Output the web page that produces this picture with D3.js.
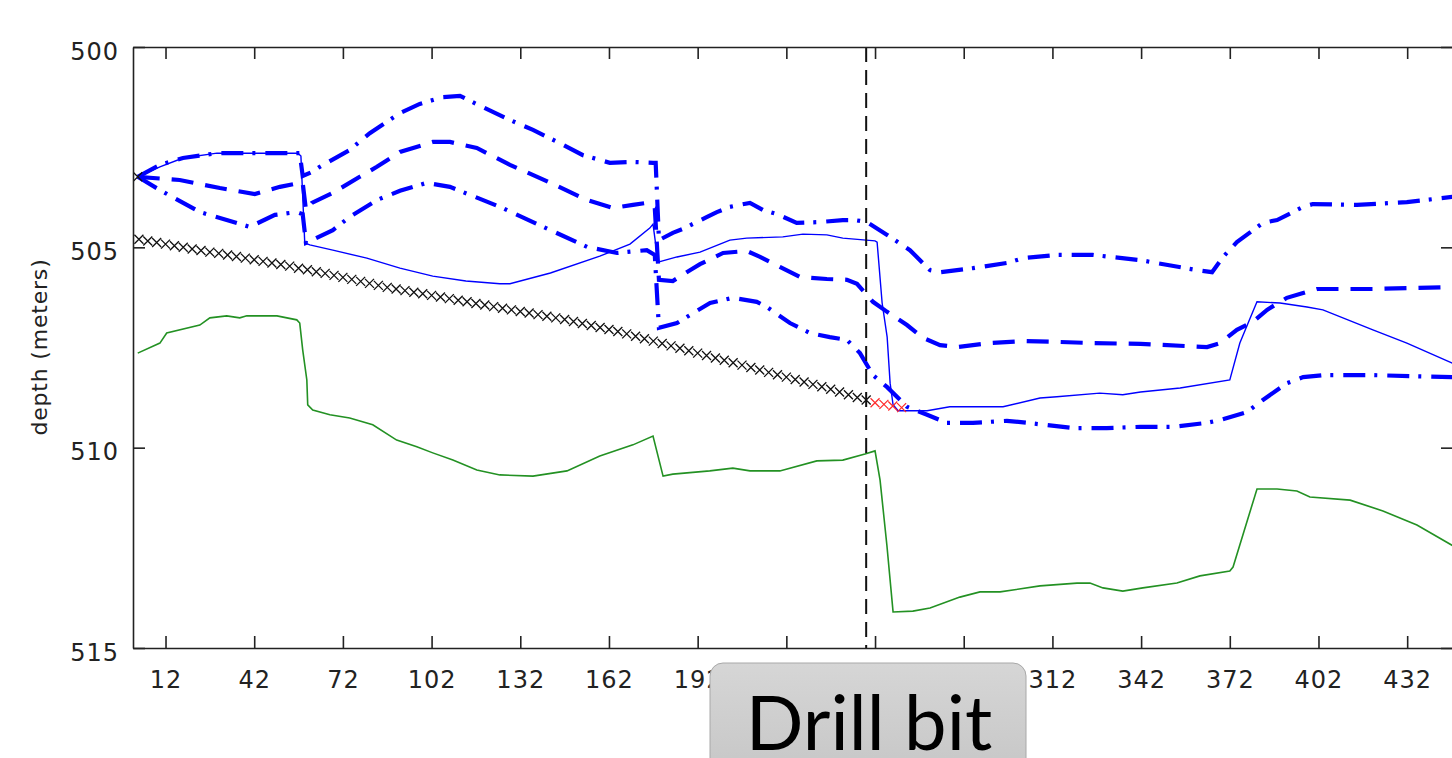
<!DOCTYPE html>
<html>
<head>
<meta charset="utf-8">
<script src="https://cdn.jsdelivr.net/npm/d3@7"></script>
<style>
  body { margin: 0; background: #ffffff; overflow: hidden; }
  svg { display: block; }
</style>
</head>
<body>
<div id="plot"></div>
<script>
// frame constants
const FRAME_WIDTH = 1452;
const FRAME_HEIGHT = 758;
const PLOT = {left: 133, right: 1453, top: 47, bottom: 648};

// axis ticks
const X_TICKS = [12, 42, 72, 102, 132, 162, 192, 222, 252, 282, 312, 342, 372, 402, 432];
const Y_TICKS = [500, 505, 510, 515];
const DRILL_BIT_X = 249;

// drilled path so far (black x markers)
const DRILL_X = [3, 6, 9, 12, 15, 18, 21, 24, 27, 30, 33, 36, 39, 42, 45, 48, 51, 54, 57, 60,
  63, 66, 69, 72, 75, 78, 81, 84, 87, 90, 93, 96, 99, 102, 105, 108, 111, 114, 117, 120,
  123, 126, 129, 132, 135, 138, 141, 144, 147, 150, 153, 156, 159, 162, 165, 168, 171, 174, 177, 180,
  183, 186, 189, 192, 195, 198, 201, 204, 207, 210, 213, 216, 219, 222, 225, 228, 231, 234, 237, 240,
  243, 246, 249];
const DRILL_DEPTH = [504.80, 504.84, 504.88, 504.92, 504.96, 505.00, 505.04, 505.08, 505.12, 505.15,
  505.19, 505.23, 505.27, 505.31, 505.35, 505.39, 505.43, 505.47, 505.52, 505.56,
  505.61, 505.65, 505.70, 505.75, 505.80, 505.85, 505.90, 505.95, 506.00, 506.04,
  506.08, 506.12, 506.16, 506.20, 506.24, 506.28, 506.32, 506.36, 506.40, 506.44,
  506.48, 506.52, 506.56, 506.60, 506.64, 506.68, 506.72, 506.76, 506.80, 506.85,
  506.90, 506.95, 507.00, 507.05, 507.10, 507.16, 507.22, 507.28, 507.34, 507.40,
  507.46, 507.52, 507.58, 507.64, 507.70, 507.76, 507.82, 507.88, 507.94, 508.00,
  508.06, 508.12, 508.18, 508.24, 508.30, 508.36, 508.42, 508.48, 508.54, 508.61,
  508.68, 508.75, 508.81];

// planned points ahead of the bit (red x markers)
const PLAN_X = [252, 255, 258, 261];
const PLAN_DEPTH = [508.88, 508.92, 508.96, 509.00];

// start point marker
const START_X = [2.6];
const START_DEPTH = [503.24];

// upper bound (thick dash-dot)
const UPPER_X = [2.6, 10.1, 17.9, 29.4, 56.4, 57.4, 58.4, 61.5, 64.2, 74.3, 81.1, 91.3, 98.0, 105.8, 111.6,
  119.3, 128.5, 136.3, 145.4, 153.2, 162.3, 170.1, 176.9, 177.8, 178.9, 183.6, 187.0, 195.2, 198.5, 202.9,
  209.7, 214.1, 218.8, 225.5, 233.3, 241.1, 245.2, 249.3, 256.1, 263.8, 270.6, 274.0, 285.1, 296.6, 302.1,
  313.5, 325.7, 341.8, 360.9, 366.0, 369.7, 374.4, 383.2, 388.0, 396.8, 400.1, 415.0, 431.9, 447.5];
const UPPER_DEPTH = [503.24, 502.94, 502.77, 502.65, 502.65, 502.65, 503.22, 503.12, 502.99, 502.57, 502.15, 501.65, 501.42, 501.25, 501.22,
  501.50, 501.82, 502.07, 502.40, 502.70, 502.89, 502.87, 502.89, 502.89, 504.82, 504.64, 504.54, 504.24, 504.12, 503.99,
  503.89, 504.07, 504.17, 504.39, 504.37, 504.32, 504.32, 504.37, 504.69, 505.07, 505.57, 505.62, 505.52, 505.39, 505.27,
  505.19, 505.19, 505.32, 505.57, 505.62, 505.24, 504.87, 504.39, 504.32, 503.99, 503.92, 503.94, 503.87, 503.74];

// middle estimate (thick dashed)
const MID_X = [2.6, 16.8, 30.4, 42.2, 50.7, 57.4, 58.4, 59.5, 61.5, 68.6, 77.7, 83.5, 91.3, 102.4, 108.2,
  117.3, 128.5, 142.2, 154.6, 163.3, 170.1, 174.8, 177.5, 178.9, 183.6, 189.4, 192.8, 200.6, 208.6, 213.1,
  219.8, 226.6, 235.7, 242.5, 245.9, 251.3, 256.1, 262.8, 268.2, 274.0, 279.7, 290.8, 302.1, 313.5, 325.7,
  341.8, 364.3, 368.7, 374.4, 379.8, 384.6, 391.3, 396.8, 401.5, 420.4, 447.5];
const MID_DEPTH = [503.24, 503.32, 503.52, 503.67, 503.49, 503.39, 503.39, 504.07, 503.89, 503.64, 503.24, 502.99, 502.62, 502.37, 502.37,
  502.52, 502.94, 503.39, 503.82, 504.02, 503.94, 503.89, 504.02, 505.81, 505.84, 505.57, 505.42, 505.14, 505.09, 505.24,
  505.49, 505.74, 505.79, 505.81, 505.91, 506.36, 506.61, 506.94, 507.26, 507.44, 507.49, 507.39, 507.34, 507.36, 507.39,
  507.41, 507.49, 507.39, 507.06, 506.86, 506.56, 506.26, 506.14, 506.04, 506.04, 505.99];

// lower bound (thick dash-dot)
const LOW_X = [2.6, 10.1, 23.6, 40.5, 49.0, 56.4, 58.4, 59.5, 68.6, 74.3, 83.5, 91.3, 100.4, 108.2, 125.1,
  142.2, 154.6, 164.7, 174.8, 177.5, 178.9, 185.0, 190.5, 196.2, 203.9, 212.0, 215.4, 223.2, 230.0, 236.7,
  242.5, 246.9, 251.3, 256.1, 260.5, 262.8, 269.6, 276.3, 285.1, 296.6, 303.4, 318.9, 330.4, 341.8, 352.8,
  364.3, 368.7, 377.8, 383.2, 391.3, 396.8, 403.5, 420.4, 447.5];
const LOW_DEPTH = [503.24, 503.57, 504.12, 504.49, 504.19, 504.12, 504.17, 504.89, 504.57, 504.24, 503.82, 503.59, 503.39, 503.49, 503.99,
  504.57, 504.99, 505.14, 505.07, 505.19, 507.01, 506.89, 506.64, 506.39, 506.26, 506.36, 506.49, 506.89, 507.14, 507.24,
  507.31, 507.64, 508.19, 508.49, 508.81, 508.98, 509.18, 509.38, 509.38, 509.33, 509.38, 509.51, 509.51, 509.48, 509.48,
  509.38, 509.31, 509.11, 508.81, 508.39, 508.24, 508.19, 508.19, 508.24];

// thin solid blue line
const SOLID_X = [2.6, 10.1, 17.9, 29.4, 56.8, 57.8, 59.1, 60.8, 68.6, 80.1, 91.3, 102.4, 113.6, 125.1, 128.5,
  142.2, 158.9, 169.1, 175.8, 176.9, 178.6, 185.0, 192.8, 202.9, 208.6, 220.8, 227.6, 235.7, 241.1, 252.0,
  252.7, 254.4, 256.1, 257.1, 258.1, 259.8, 269.6, 277.3, 295.3, 307.8, 313.5, 328.0, 335.8, 341.8, 355.2,
  372.0, 375.4, 378.2, 381.2, 389.0, 398.1, 403.5, 420.4, 431.9, 447.5];
const SOLID_DEPTH = [503.24, 502.99, 502.77, 502.65, 502.65, 502.72, 504.89, 504.94, 505.07, 505.27, 505.52, 505.72, 505.84, 505.91, 505.91,
  505.64, 505.22, 504.92, 504.52, 504.42, 505.37, 505.24, 505.12, 504.82, 504.77, 504.74, 504.67, 504.69, 504.77, 504.84,
  504.87, 506.39, 507.24, 508.39, 508.93, 509.08, 509.08, 508.98, 508.98, 508.76, 508.73, 508.64, 508.68, 508.61, 508.51,
  508.31, 507.39, 506.89, 506.36, 506.39, 506.49, 506.56, 507.06, 507.39, 507.90];

// green line
const GREEN_X = [2.6, 10.1, 12.4, 23.6, 27.0, 32.7, 37.1, 39.5, 49.7, 56.4, 57.4, 58.4, 59.8, 60.1, 61.8,
  67.6, 74.3, 82.1, 90.2, 97.0, 102.4, 109.2, 117.3, 125.1, 136.3, 147.8, 158.9, 170.1, 176.9, 180.3,
  183.6, 196.1, 203.9, 209.7, 219.8, 232.3, 241.1, 248.6, 252.0, 253.7, 256.0, 258.1, 264.8, 270.6, 280.7,
  287.5, 294.3, 307.8, 320.3, 324.7, 329.1, 335.8, 342.6, 354.1, 361.9, 372.0, 373.1, 381.2, 388.0, 394.7,
  399.1, 412.7, 423.8, 435.3, 447.5];
const GREEN_DEPTH = [507.64, 507.39, 507.14, 506.94, 506.76, 506.71, 506.76, 506.71, 506.71, 506.81, 506.89, 507.56, 508.31, 508.93, 509.06,
  509.18, 509.26, 509.43, 509.81, 509.98, 510.13, 510.31, 510.56, 510.68, 510.71, 510.58, 510.21, 509.93, 509.71, 510.71,
  510.66, 510.58, 510.51, 510.58, 510.58, 510.33, 510.31, 510.16, 510.08, 510.81, 512.43, 514.10, 514.08, 514.00, 513.73,
  513.60, 513.60, 513.45, 513.38, 513.38, 513.50, 513.58, 513.50, 513.38, 513.20, 513.08, 512.98, 511.03, 511.03, 511.08,
  511.23, 511.31, 511.58, 511.93, 512.45];

const TICK_FONT = "'DejaVu Sans', sans-serif";

const FRAME = d3.select("#plot")
  .append("svg")
  .attr("width", FRAME_WIDTH)
  .attr("height", FRAME_HEIGHT);

const X_SCALE = d3.scaleLinear()
  .domain([1, 447.5])
  .range([PLOT.left, PLOT.right]);

const Y_SCALE = d3.scaleLinear()
  .domain([500, 515])
  .range([PLOT.top, PLOT.bottom]);

FRAME.append("clipPath")
  .attr("id", "clip")
  .append("rect")
  .attr("x", PLOT.left)
  .attr("y", PLOT.top)
  .attr("width", PLOT.right - PLOT.left)
  .attr("height", PLOT.bottom - PLOT.top);

const LINES = FRAME.append("g").attr("clip-path", "url(#clip)");

// helper to zip x and depth arrays
function zip(xs, ys) {
  return xs.map((x, i) => ({x: x, y: ys[i]}));
}

const LINE = d3.line()
  .x((d) => X_SCALE(d.x))
  .y((d) => Y_SCALE(d.y));

// green line
LINES.append("path")
  .datum(zip(GREEN_X, GREEN_DEPTH))
  .attr("d", LINE)
  .attr("fill", "none")
  .attr("stroke", "#239123")
  .attr("stroke-width", 1.6);

// thin blue line
LINES.append("path")
  .datum(zip(SOLID_X, SOLID_DEPTH))
  .attr("d", LINE)
  .attr("fill", "none")
  .attr("stroke", "#0000ff")
  .attr("stroke-width", 1.4);

// thick blue bounds
const THICK = [
  {xs: UPPER_X, ys: UPPER_DEPTH, dash: "22,9,3,10"},
  {xs: MID_X, ys: MID_DEPTH, dash: "22,12"},
  {xs: LOW_X, ys: LOW_DEPTH, dash: "22,9,3,10"}
];
THICK.forEach((s) => {
  LINES.append("path")
    .datum(zip(s.xs, s.ys))
    .attr("d", LINE)
    .attr("fill", "none")
    .attr("stroke", "#0000ff")
    .attr("stroke-width", 4.2)
    .attr("stroke-dasharray", s.dash);
});

// x markers
const X_MARK = "M-4.5,-4.5L4.5,4.5M-4.5,4.5L4.5,-4.5";

LINES.selectAll(".drill")
  .data(zip(DRILL_X, DRILL_DEPTH).concat(zip(START_X, START_DEPTH)))
  .enter()
  .append("path")
  .attr("class", "drill")
  .attr("d", X_MARK)
  .attr("transform", (d) => "translate(" + X_SCALE(d.x) + "," + Y_SCALE(d.y) + ")")
  .attr("fill", "none")
  .attr("stroke", "#111")
  .attr("stroke-width", 1.3);

LINES.selectAll(".plan")
  .data(zip(PLAN_X, PLAN_DEPTH))
  .enter()
  .append("path")
  .attr("class", "plan")
  .attr("d", X_MARK)
  .attr("transform", (d) => "translate(" + X_SCALE(d.x) + "," + Y_SCALE(d.y) + ")")
  .attr("fill", "none")
  .attr("stroke", "#ff2a2a")
  .attr("stroke-width", 1.2);

// drill bit position
FRAME.append("line")
  .attr("x1", X_SCALE(DRILL_BIT_X))
  .attr("x2", X_SCALE(DRILL_BIT_X))
  .attr("y1", PLOT.top)
  .attr("y2", PLOT.bottom)
  .attr("stroke", "#111")
  .attr("stroke-width", 2)
  .attr("stroke-dasharray", "15,8");

// axes with inward ticks
function styleAxis(g) {
  g.selectAll("path, line").attr("stroke", "#222").attr("stroke-width", 1.6);
  g.selectAll("text")
    .attr("font-family", TICK_FONT)
    .attr("font-size", "24px")
    .attr("letter-spacing", "1px")
    .attr("fill", "#222");
}

FRAME.append("g")
  .attr("transform", "translate(0," + PLOT.bottom + ")")
  .call(d3.axisBottom(X_SCALE).tickValues(X_TICKS).tickSizeInner(-12).tickSizeOuter(0).tickPadding(23))
  .call(styleAxis);

FRAME.append("g")
  .attr("transform", "translate(0," + PLOT.top + ")")
  .call(d3.axisTop(X_SCALE).tickValues(X_TICKS).tickSizeInner(-12).tickSizeOuter(0).tickFormat(""))
  .call(styleAxis);

FRAME.append("g")
  .attr("transform", "translate(" + PLOT.left + ",0)")
  .call(d3.axisLeft(Y_SCALE).tickValues(Y_TICKS).tickSizeInner(-12).tickSizeOuter(0).tickPadding(14))
  .call(styleAxis)
  .selectAll("text").attr("dy", "0.5em");

FRAME.append("g")
  .attr("transform", "translate(" + PLOT.right + ",0)")
  .call(d3.axisRight(Y_SCALE).tickValues(Y_TICKS).tickSizeInner(-12).tickSizeOuter(0).tickFormat(""))
  .call(styleAxis);

// y label
FRAME.append("text")
  .attr("transform", "translate(47,347) rotate(-90)")
  .attr("text-anchor", "middle")
  .attr("font-family", TICK_FONT)
  .attr("font-size", "22px")
  .attr("letter-spacing", "0.8px")
  .attr("fill", "#222")
  .text("depth (meters)");

// "Drill bit" callout
const GRAD = FRAME.append("defs").append("linearGradient")
  .attr("id", "boxGrad")
  .attr("x1", 0).attr("y1", 0).attr("x2", 0).attr("y2", 1);
GRAD.append("stop").attr("offset", "0%").attr("stop-color", "#d6d6d6");
GRAD.append("stop").attr("offset", "100%").attr("stop-color", "#c4c4c4");

FRAME.append("rect")
  .attr("x", 710)
  .attr("y", 663)
  .attr("width", 316)
  .attr("height", 130)
  .attr("rx", 13)
  .attr("fill", "url(#boxGrad)")
  .attr("stroke", "#a8a8a8")
  .attr("stroke-width", 1);

FRAME.append("text")
  .attr("x", 869)
  .attr("y", 750)
  .attr("text-anchor", "middle")
  .attr("font-family", "Lato, sans-serif")
  .attr("font-size", "76px")
  .attr("fill", "#000")
  .text("Drill bit");
</script>
</body>
</html>
